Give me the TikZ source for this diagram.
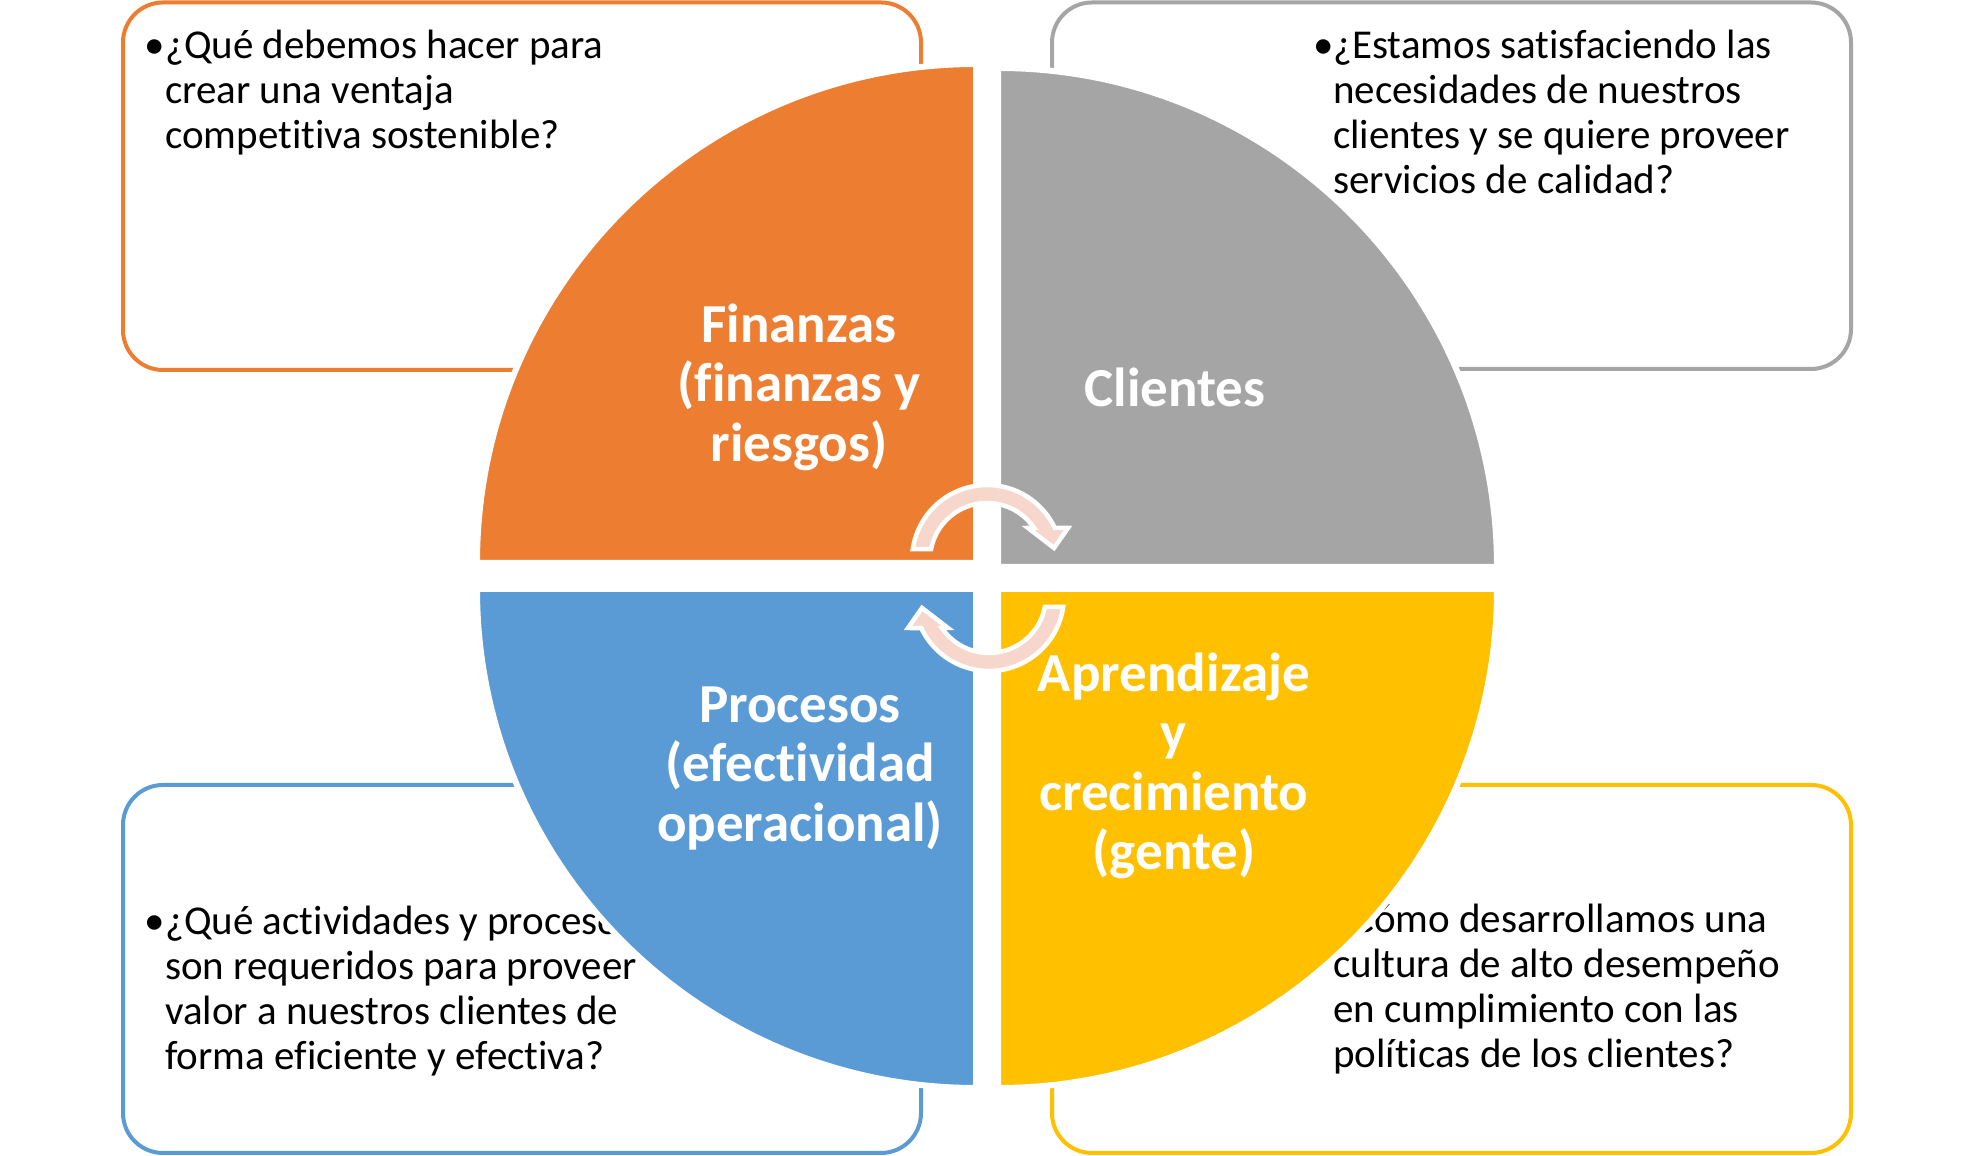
\documentclass[tikz,border=0pt]{standalone}
\usepackage{fontspec}
\setmainfont{Carlito}[Ligatures=NoCommon]
\usetikzlibrary{calc}
\definecolor{qorange}{HTML}{ED7D31}
\definecolor{qgray}{HTML}{A5A5A5}
\definecolor{qblue}{HTML}{5B9BD5}
\definecolor{qyellow}{HTML}{FFC000}
\definecolor{arrowpink}{RGB}{247,214,204}
\begin{document}
\begin{tikzpicture}[x=1pt,y=1pt,
  qbox/.style={line width=4pt, rounded corners=40pt, fill=white},
  qtext/.style={inner sep=0pt, anchor=base west, font=\fontsize{41}{45}\selectfont, text=black},
  quad/.style={draw=white, line width=6pt, line join=miter},
  qlabel/.style={inner sep=0pt, anchor=base, font=\fontsize{55}{59.5}\selectfont\bfseries, text=white},
  arrowband/.style={fill=arrowpink, draw=white, line width=4.5pt, line join=miter}]
\useasboundingbox (0,0) rectangle (1974,1156);
\fill[white] (0,0) rectangle (1974,1156);
% boxes
\draw[qbox, draw=qorange] (123,786) rectangle (921,1153.5);
\draw[qbox, draw=qgray] (1052,787) rectangle (1851,1153.5);
\draw[qbox, draw=qblue] (123,3) rectangle (921,371);
\draw[qbox, draw=qyellow] (1052,3) rectangle (1851,371);
% box texts
\node[qtext] (b1) at (144,1097.5) {•};
\node[qtext] (t1) at (165,1097.5) {\parbox[t]{700pt}{\raggedright ¿Qué debemos hacer para\\crear una ventaja\\competitiva sostenible?}};
\node[qtext] (b2) at (1313,1097.5) {•};
\node[qtext] (t2) at (1333,1097.5) {\parbox[t]{700pt}{\raggedright ¿Estamos satisfaciendo las\\necesidades de nuestros\\clientes y se quiere proveer\\servicios de calidad?}};
\node[qtext] (b3) at (144,221.5) {•};
\node[qtext] (t3) at (165,221.5) {\parbox[t]{700pt}{\raggedright ¿Qué actividades y procesos\\son requeridos para proveer\\valor a nuestros clientes de\\forma eficiente y efectiva?}};
\node[qtext] (b4) at (1313,223.5) {•};
\node[qtext] (t4) at (1333,223.5) {\parbox[t]{700pt}{\raggedright ¿Cómo desarrollamos una\\cultura de alto desempeño\\en cumplimiento con las\\políticas de los clientes?}};
% quadrants
\filldraw[quad, fill=qorange] (976,593) -- ++(-499,0) arc[start angle=180, end angle=90, radius=499] -- cycle;
\filldraw[quad, fill=qgray] (998,589) -- ++(499,0) arc[start angle=0, end angle=90, radius=499] -- cycle;
\filldraw[quad, fill=qblue] (976,567) -- ++(-499,0) arc[start angle=180, end angle=270, radius=499] -- cycle;
\filldraw[quad, fill=qyellow] (998,567) -- ++(499,0) arc[start angle=0, end angle=-90, radius=499] -- cycle;
% labels
\node[qlabel] (l1) at (799,813.5) {\parbox[t]{400pt}{\centering Finanzas\\(finanzas y\\riesgos)}};
\node[qlabel] (l2) at (1175,749.5) {\parbox[t]{400pt}{\centering Clientes}};
\node[qlabel] (l3) at (800,433.5) {\parbox[t]{400pt}{\centering Procesos\\(efectividad\\operacional)}};
\node[qlabel] (l4) at (1174,464.5) {\parbox[t]{400pt}{\centering Aprendizaje\\y\\crecimiento\\(gente)}};
% circular arrows
\filldraw[arrowband] ($(987,596)+(171.6:75)$) arc[start angle=171.6, end angle=25.3, radius=75]
  -- (1068,628) -- (1054,608) -- (1028,628) -- ($(987,596)+(34.2:57)$)
  arc[start angle=34.2, end angle=168.9, radius=57] -- cycle;
\filldraw[arrowband] ($(989,560)+(351.6:75)$) arc[start angle=351.6, end angle=205.3, radius=75]
  -- (908,528) -- (922,548) -- (948,528) -- ($(989,560)+(214.2:57)$)
  arc[start angle=214.2, end angle=348.9, radius=57] -- cycle;
\end{tikzpicture}
\end{document}
